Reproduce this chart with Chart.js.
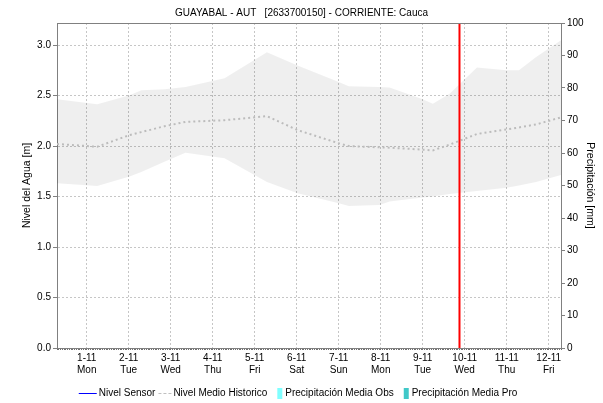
<!DOCTYPE html>
<html lang="es">
<head>
<meta charset="UTF-8">
<title>GUAYABAL - AUT - Nivel del Agua</title>
<script src="https://cdn.jsdelivr.net/npm/chart.js"></script>
<style>
  html, body { margin: 0; padding: 0; background: #fff; }
  #wrap { width: 603px; height: 403px; }
</style>
</head>
<body>
<div id="wrap"><canvas id="nivelChart" width="603" height="403"></canvas></div>
<script>
// eje x en dias desde el 1-11 (00:00); ventana 31-10 07:00 .. 12-11 07:00
const xMin = -0.708;
const xMax = 11.292;
const yMax = 3.22;
const dayTicks = [0, 1, 2, 3, 4, 5, 6, 7, 8, 9, 10, 11];
const dayDates = ['1-11', '2-11', '3-11', '4-11', '5-11', '6-11', '7-11', '8-11', '9-11', '10-11', '11-11', '12-11'];
const dayNames = ['Mon', 'Tue', 'Wed', 'Thu', 'Fri', 'Sat', 'Sun', 'Mon', 'Tue', 'Wed', 'Thu', 'Fri'];

// banda historica (max / min) y nivel medio historico [m]
const bandDays   = [-0.708, 0.25, 1.02, 1.3, 1.85, 2.35, 3.28, 4.29, 5.02, 6.0, 6.24, 6.97, 7.21, 8.0, 8.24, 8.64, 9.29, 10.0, 10.29, 10.7, 11.292];
const nivelMax   = [2.465, 2.416, 2.505, 2.554, 2.564, 2.587, 2.673, 2.93, 2.80, 2.636, 2.594, 2.587, 2.58, 2.465, 2.42, 2.52, 2.78, 2.752, 2.752, 2.884, 3.048];
const nivelMin   = [1.632, 1.606, 1.698, 1.744, 1.846, 1.935, 1.879, 1.645, 1.534, 1.435, 1.408, 1.418, 1.451, 1.49, 1.50, 1.525, 1.555, 1.587, 1.61, 1.645, 1.714];
const nivelMedio = [2.021, 1.994, 2.11, 2.139, 2.197, 2.24, 2.257, 2.297, 2.159, 2.028, 2.001, 1.988, 1.985, 1.965, 1.958, 2.015, 2.12, 2.166, 2.185, 2.215, 2.285];

// sin datos de sensor ni de precipitacion en la ventana
const nivelSensor = [];
const precipObs = [];
const precipPro = [];

// instante actual (9-11 21:00)
const nowDay = 8.875;

const axisColor = '#808080';
const gridColor = '#c6c6c6';

Chart.defaults.font.family = "'Liberation Sans', Arial, sans-serif";
Chart.defaults.font.size = 10;
Chart.defaults.color = '#000';

// simbolos de la leyenda: canvas 40x12, centro en x=20
function swatch(draw) {
  const c = document.createElement('canvas');
  c.width = 40; c.height = 12;
  draw(c.getContext('2d'));
  return c;
}
const symSensor = swatch(g => { g.fillStyle = '#0000ff'; g.fillRect(9, 6, 18, 1); });
const symMedio = swatch(g => {
  g.fillStyle = '#c0c0c0';
  for (let x = 14; x < 27; x += 5) g.fillRect(x, 6, 3, 1);
});
const symObs = swatch(g => { g.fillStyle = '#80ffff'; g.fillRect(21, 1, 5, 11); });
const symPro = swatch(g => { g.fillStyle = '#40c8c8'; g.fillRect(21, 1, 5, 11); });

const pts = vals => bandDays.map((d, i) => ({ x: d, y: vals[i] }));

const marcoSuperior = {
  id: 'marcoSuperior',
  afterDraw(chart) {
    const { ctx, chartArea: a } = chart;
    const y = Math.round(a.top) + 0.5;
    ctx.save();
    ctx.strokeStyle = axisColor;
    ctx.lineWidth = 1;
    ctx.beginPath();
    ctx.moveTo(a.left, y);
    ctx.lineTo(a.right, y);
    ctx.stroke();
    ctx.restore();
  }
};

new Chart(document.getElementById('nivelChart'), {
  type: 'line',
  data: {
    datasets: [
      { label: 'Nivel Sensor', data: nivelSensor, borderColor: '#0000ff', borderWidth: 1, pointRadius: 0, sym: symSensor },
      { label: 'Nivel Medio Historico', data: pts(nivelMedio), borderColor: '#bcbcbc', borderWidth: 2, borderDash: [2, 3], pointRadius: 0, sym: symMedio },
      { label: 'Precipitación Media Obs', type: 'bar', yAxisID: 'y1', data: precipObs, backgroundColor: '#80ffff', sym: symObs },
      { label: 'Precipitación Media Pro', type: 'bar', yAxisID: 'y1', data: precipPro, backgroundColor: '#40c8c8', sym: symPro },
      { label: 'max', data: pts(nivelMax), borderWidth: 0, pointRadius: 0, fill: '+1', backgroundColor: 'rgba(0,0,0,0.062)' },
      { label: 'min', data: pts(nivelMin), borderWidth: 0, pointRadius: 0, fill: false },
      // linea del instante actual, encima de todo
      { label: 'ahora', order: -1, data: [{ x: nowDay, y: 0 }, { x: nowDay, y: yMax }], borderColor: '#ff0000', borderWidth: 2, pointRadius: 0 }
    ]
  },
  options: {
    responsive: false,
    animation: false,
    layout: { padding: { top: 0, left: 0, right: 0, bottom: -5 } },
    plugins: {
      title: {
        display: true,
        text: 'GUAYABAL - AUT   [2633700150] - CORRIENTE: Cauca',
        color: '#000',
        font: { size: 10, weight: 'normal' },
        padding: { top: 7, bottom: 4 }
      },
      legend: {
        position: 'bottom',
        labels: {
          usePointStyle: true,
          pointStyleWidth: 8,
          boxWidth: 8,
          padding: 5,
          color: '#000',
          font: { size: 10 },
          generateLabels: chart => chart.data.datasets
            .map((ds, i) => ({ ds, i }))
            .filter(o => o.ds.sym)
            .map(o => ({
              text: o.ds.label,
              pointStyle: o.ds.sym,
              fillStyle: 'transparent',
              strokeStyle: 'transparent',
              lineWidth: 0,
              fontColor: '#000',
              datasetIndex: o.i,
              hidden: false
            }))
        }
      },
      tooltip: { enabled: false }
    },
    scales: {
      x: {
        type: 'linear',
        position: 'bottom',
        offset: false,
        min: xMin,
        max: xMax,
        afterFit: s => { s.height = 32; },
        afterBuildTicks: s => { s.ticks = dayTicks.map(v => ({ value: v })); },
        grid: { color: gridColor, drawTicks: false, offset: false },
        border: { display: false, dash: [2, 2] },
        ticks: {
          autoSkip: false,
          maxRotation: 0,
          padding: 1,
          callback: v => {
            const i = dayTicks.indexOf(v);
            return [dayDates[i], dayNames[i]];
          }
        }
      },
      xMinor: {
        type: 'linear',
        position: 'bottom',
        offset: false,
        weight: -1,
        min: xMin,
        max: xMax,
        afterFit: s => { s.height = 3; },
        ticks: { display: false, stepSize: 1 / 24 },
        grid: { drawOnChartArea: false, drawTicks: true, tickLength: 2, tickColor: '#707070', offset: false },
        border: { display: true, color: axisColor }
      },
      y: {
        type: 'linear',
        position: 'left',
        min: 0,
        max: yMax,
        afterFit: s => { s.width = 57; },
        ticks: { stepSize: 0.5, includeBounds: false, padding: 2, callback: v => v.toFixed(1) },
        grid: { color: gridColor, tickColor: axisColor, tickLength: 4 },
        border: { color: axisColor, dash: [2, 2] },
        title: { display: true, text: 'Nivel del Agua [m]', color: '#000', font: { size: 10.5 }, padding: { top: 21, bottom: 0 } }
      },
      y1: {
        type: 'linear',
        position: 'right',
        min: 0,
        max: 100,
        afterFit: s => { s.width = 42; },
        ticks: { stepSize: 10, padding: 2 },
        grid: { drawOnChartArea: false, tickColor: axisColor, tickLength: 4 },
        border: { color: axisColor },
        title: { display: true, text: 'Precipitación [mm]', color: '#000', font: { size: 10.5 }, padding: { top: 7, bottom: 0 } }
      }
    }
  },
  plugins: [marcoSuperior]
});
</script>
</body>
</html>
